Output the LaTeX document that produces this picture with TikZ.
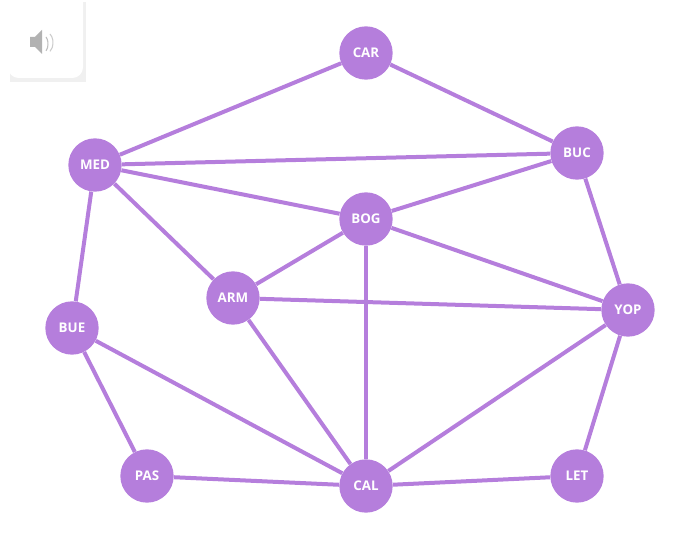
\documentclass[tikz,border=0pt]{standalone}
\usepackage{fontspec}
\setsansfont{Open Sans}
\definecolor{lilac}{HTML}{B57EDC}
\begin{document}
\begin{tikzpicture}[
  x=0.75pt, y=-0.75pt,
  city/.style={circle, fill=lilac, minimum size=40pt, inner sep=0pt, text=white, font=\sffamily\bfseries\fontsize{10}{12}\selectfont},
  road/.style={draw=lilac, line width=3pt}
]
\useasboundingbox (0,0) rectangle (700,538);
% speaker button
\fill[black!6] (10,2) rectangle (86,82);
\fill[white, rounded corners=8pt] (8,-10) rectangle (83,78);
\fill[black!30] (30,37) -- (35,37) -- (42,30) -- (42,54) -- (35,47) -- (30,47) -- cycle;
\draw[black!25, line width=0.8pt] (46,37) arc (-60:60:4 and 8);
\draw[black!20, line width=0.8pt] (50,34) arc (-60:60:6 and 10);
% cities
\node[city] (car) at (366,53) {CAR};
\node[city] (buc) at (577,153) {BUC};
\node[city] (med) at (95,165) {MED};
\node[city] (bog) at (366,219) {BOG};
\node[city] (arm) at (233,298) {ARM};
\node[city] (yop) at (628,310) {YOP};
\node[city] (bue) at (72,328) {BUE};
\node[city] (pas) at (147,476) {PAS};
\node[city] (cal) at (366,486) {CAL};
\node[city] (let) at (577,476) {LET};
% roads
\foreach \a/\b in {car/med, car/buc, med/buc, med/bog, med/arm, med/bue,
  buc/bog, buc/yop, bog/arm, bog/yop, bog/cal, arm/yop, arm/cal, bue/cal,
  bue/pas, pas/cal, cal/yop, cal/let, let/yop}
  \draw[road] (\a) -- (\b);
\end{tikzpicture}
\end{document}
